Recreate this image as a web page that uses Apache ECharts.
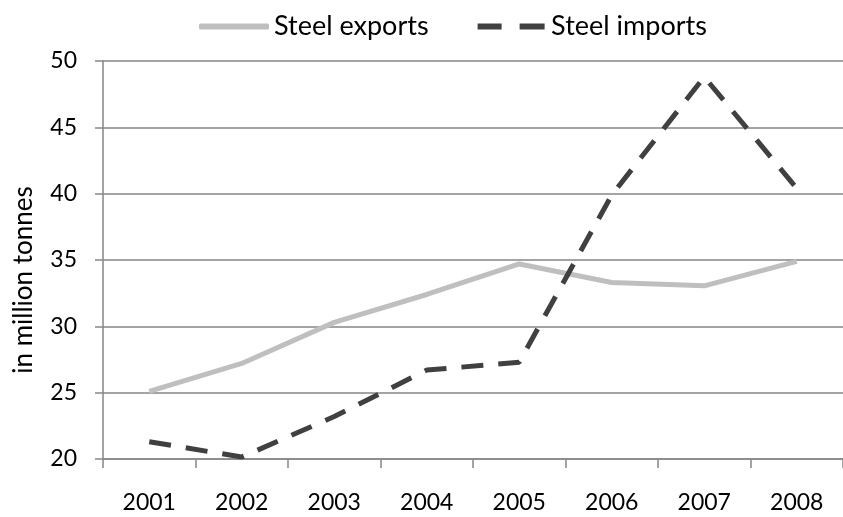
<!DOCTYPE html>
<html>
<head>
<meta charset="utf-8">
<script src="https://cdn.jsdelivr.net/npm/echarts@6/dist/echarts.min.js"></script>
<style>html,body{margin:0;padding:0;background:#fff;}#c{width:843px;height:517px;}</style>
</head>
<body>
<div id="c"></div>
<script>
const years = ['2001','2002','2003','2004','2005','2006','2007','2008'];
const steelExports = [25.1, 27.2, 30.3, 32.4, 34.7, 33.3, 33.05, 34.9];
const steelImports = [21.3, 20.15, 23.2, 26.7, 27.3, 39.9, 48.8, 40.4];
const yTicks = {min: 20, max: 50, interval: 5};
const axisTitle = 'in million tonnes';

const FONT = 'Lato';
const gray = '#868686';
const chart = echarts.init(document.getElementById('c'), null, {renderer: 'canvas'});
chart.setOption({
  animation: false,
  backgroundColor: '#fff',
  textStyle: {fontFamily: FONT},
  legend: {
    left: 194, top: 8,
    itemWidth: 70, itemHeight: 6, itemGap: 49,
    textStyle: {fontFamily: FONT, fontSize: 27, color: '#000'},
    data: [
      {name: 'Steel exports', icon: 'roundRect'},
      {name: 'Steel imports', icon: 'path://M0,0H24V6H0Z M42,0H67V6H42Z'}
    ]
  },
  grid: {left: 103, right: -7, top: 61, bottom: 58, containLabel: false},
  xAxis: {
    type: 'category', data: years, boundaryGap: true,
    axisLine: {lineStyle: {color: gray, width: 1.5}},
    axisTick: {show: true, length: 9, interval: 0, lineStyle: {color: gray, width: 1.5}},
    axisLabel: {margin: 32, fontFamily: FONT, fontSize: 23, color: '#000', interval: 0}
  },
  yAxis: {
    type: 'value', min: yTicks.min, max: yTicks.max, interval: yTicks.interval,
    axisLine: {show: true, lineStyle: {color: gray, width: 1.5}},
    axisTick: {show: true, length: 8, lineStyle: {color: gray, width: 1.5}},
    splitLine: {show: true, lineStyle: {color: gray, width: 1.5}},
    axisLabel: {margin: 26, fontFamily: FONT, fontSize: 23, color: '#000'}
  },
  graphic: [{
    type: 'text', x: 24, y: 280, rotation: Math.PI / 2,
    style: {text: axisTitle, fontFamily: FONT, fontSize: 26, fill: '#000', align: 'center', verticalAlign: 'middle'}
  }],
  series: [
    {name: 'Steel exports', type: 'line', data: steelExports, symbol: 'none',
     lineStyle: {color: '#bfbfbf', width: 5}, itemStyle: {color: '#bfbfbf'}},
    {name: 'Steel imports', type: 'line', data: steelImports, symbol: 'none',
     lineStyle: {color: '#404040', width: 5, type: [22, 15]}, itemStyle: {color: '#404040'}}
  ]
});
</script>
</body>
</html>
